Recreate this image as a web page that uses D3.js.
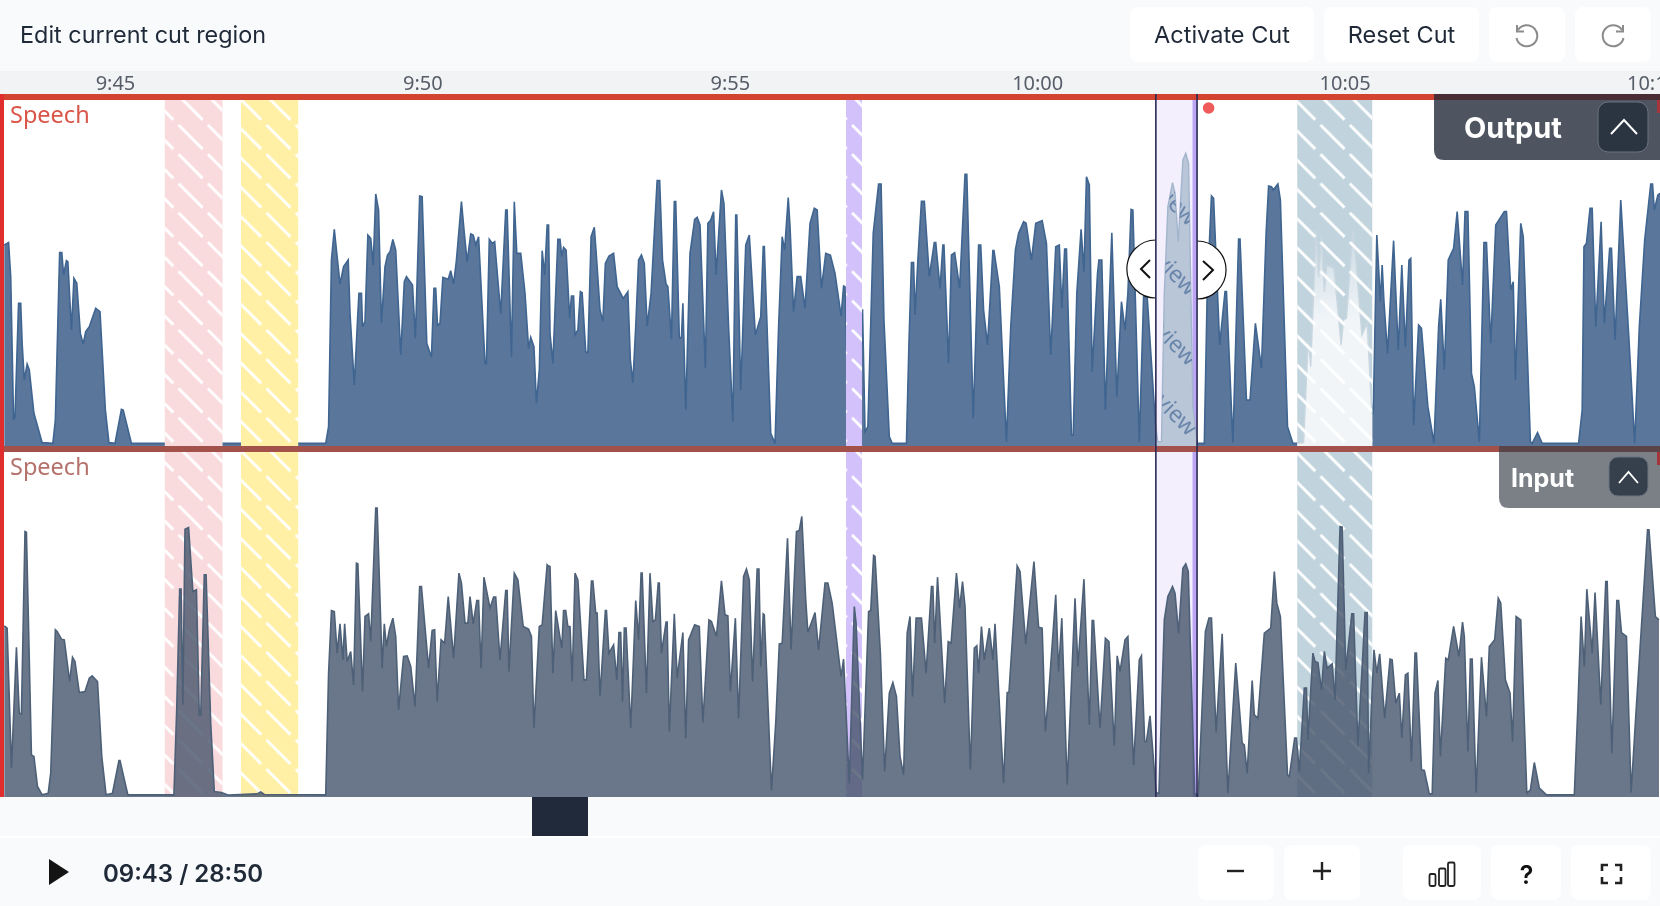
<!DOCTYPE html>
<html>
<head>
<meta charset="utf-8">
<script src="https://cdn.jsdelivr.net/npm/d3@7"></script>
<style>
  html, body { margin: 0; padding: 0; background: #f8fafc; overflow: hidden; }
  text { font-family: Inter, "Noto Sans", sans-serif; }
</style>
</head>
<body>
<div id="chart-area"></div>
<script>
// envelope readings, three stretches of the timeline: [sample, level]
const envelopeRate = 172.144;   // samples per second
const sectionLength = 1540;     // samples per stretch
const viewStart = 583.13;       // seconds at the left edge
const viewEnd = 610.13;
const fullScale = 1035;

const outputEarly = [[12,600],[24,607],[30,505],[38,75],[42,85],[52,425],[58,425],[62,305],[68,195],[76,243],[82,225],[95,95],[118,7],[148,5],[155,75],[167,577],[173,577],[178,510],[186,553],[190,550],[200,345],[205,455],[207,500],[215,485],[225,335],[233,303],[240,340],[250,355],[268,410],[280,400],[295,105],[305,7],[322,5],[340,107],[345,105],[368,5],[912,5],[920,55],[928,555],[936,647],[942,585],[952,483],[962,535],[975,555],[980,395],[992,180],[1002,395],[1005,455],[1012,455],[1015,355],[1022,370],[1030,630],[1038,620],[1045,540],[1052,753],[1060,705],[1068,365],[1078,535],[1085,570],[1092,580],[1100,617],[1108,585],[1122,270],[1132,490],[1138,505],[1155,480],[1163,320],[1175,747],[1182,745],[1195,305],[1208,263],[1215,470],[1220,470],[1225,360],[1232,365],[1240,503],[1255,497],[1262,523],[1270,483],[1278,555],[1292,730],[1300,635],[1308,550],[1318,633],[1325,630],[1332,600],[1340,625],[1358,245],[1362,245],[1370,617],[1378,605],[1385,610],[1402,393],[1416,705],[1420,705],[1432,265],[1440,730],[1447,575],[1458,575],[1470,455],[1480,290],[1486,323],[1495,295],[1502,125],[1510,225],[1518,583],[1525,510],[1532,660],[1536,660]];
const outputMiddle = [[0,335],[8,245],[22,617],[28,617],[33,565],[38,593],[45,585],[55,380],[60,447],[66,447],[70,330],[78,345],[85,460],[90,457],[100,280],[106,277],[115,625],[124,653],[130,565],[140,405],[148,370],[155,545],[165,567],[178,575],[188,475],[205,440],[218,460],[225,255],[232,187],[240,355],[248,555],[256,570],[264,545],[272,357],[283,455],[295,695],[300,793],[307,793],[315,555],[325,483],[330,475],[340,317],[348,730],[352,730],[362,322],[368,322],[372,425],[380,105],[392,575],[405,677],[412,683],[420,660],[435,230],[442,665],[450,675],[458,700],[465,510],[480,765],[487,725],[500,355],[512,70],[520,690],[523,690],[534,165],[548,600],[558,630],[575,330],[590,385],[597,595],[600,595],[618,35],[630,5],[640,355],[650,625],[657,585],[667,742],[672,655],[682,400],[692,505],[702,505],[714,410],[728,665],[740,710],[748,705],[760,470],[772,575],[785,570],[798,515],[815,387],[822,477],[826,475],[830,300],[873,300],[875,407],[882,40],[890,55],[905,635],[920,783],[927,783],[935,375],[950,25],[958,5],[998,5],[1005,305],[1012,547],[1018,547],[1022,390],[1030,555],[1040,731],[1048,731],[1062,505],[1076,607],[1080,607],[1092,470],[1100,600],[1103,600],[1116,245],[1124,570],[1133,577],[1147,470],[1162,812],[1167,812],[1185,80],[1200,600],[1206,600],[1214,405],[1225,300],[1240,583],[1243,583],[1258,475],[1278,10],[1290,355],[1303,585],[1312,635],[1326,670],[1333,665],[1348,555],[1360,665],[1378,673],[1390,605],[1402,270],[1416,595],[1426,600],[1433,410],[1441,588],[1446,588],[1460,30],[1465,30],[1475,455],[1487,647],[1495,520],[1502,805],[1510,780],[1518,220],[1533,515],[1537,555]];
const outputLate = [[0,555],[5,555],[15,105],[33,637],[47,145],[60,430],[70,345],[78,455],[87,707],[92,705],[110,10],[122,445],[132,445],[155,65],[162,10],[172,10],[180,455],[190,715],[203,787],[210,755],[219,610],[232,855],[240,875],[248,845],[260,115],[272,5],[292,5],[300,455],[312,747],[318,740],[335,300],[350,460],[354,460],[372,7],[388,618],[392,618],[410,135],[420,135],[435,365],[452,230],[465,635],[472,777],[480,775],[485,765],[498,783],[505,735],[525,55],[540,5],[553,5],[570,7],[583,315],[590,235],[605,645],[612,505],[620,625],[628,460],[635,540],[655,530],[675,300],[682,375],[690,380],[708,640],[715,575],[733,330],[748,365],[761,95],[765,95],[775,630],[785,430],[790,540],[795,430],[805,275],[822,613],[835,285],[845,540],[855,293],[865,555],[870,560],[878,60],[892,360],[900,350],[918,115],[935,5],[948,355],[954,437],[964,225],[975,555],[990,590],[1000,700],[1015,480],[1022,700],[1030,700],[1040,215],[1048,175],[1062,10],[1075,607],[1082,607],[1094,305],[1108,660],[1132,700],[1138,700],[1150,465],[1157,490],[1163,195],[1178,665],[1185,625],[1205,10],[1210,5],[1225,37],[1238,5],[1340,5],[1350,105],[1355,595],[1362,605],[1372,710],[1378,710],[1388,355],[1403,670],[1412,365],[1427,590],[1432,590],[1442,315],[1458,735],[1480,335],[1497,5],[1510,355],[1525,615],[1542,783],[1547,783],[1552,705],[1562,750],[1568,755]];

const inputEarly = [[12,512],[20,505],[32,85],[46,448],[54,250],[60,248],[70,795],[74,793],[88,125],[95,120],[105,30],[118,5],[135,10],[142,70],[155,500],[160,495],[172,472],[180,470],[195,345],[203,418],[210,405],[222,312],[238,315],[250,355],[258,362],[273,345],[285,120],[297,5],[315,10],[333,108],[336,108],[358,5],[487,5],[495,270],[503,622],[507,622],[512,275],[518,802],[528,807],[540,615],[550,620],[558,245],[562,245],[572,665],[577,665],[590,220],[600,15],[620,12],[640,4],[720,8],[730,14],[740,6],[912,5],[920,370],[928,558],[936,555],[944,430],[952,518],[960,410],[965,518],[972,405],[982,435],[990,335],[998,700],[1002,698],[1015,315],[1022,540],[1032,548],[1038,465],[1052,865],[1056,865],[1070,385],[1076,518],[1082,450],[1090,500],[1100,535],[1108,480],[1116,260],[1130,420],[1140,422],[1150,390],[1162,270],[1175,630],[1180,630],[1200,385],[1210,498],[1217,500],[1224,285],[1235,470],[1245,460],[1255,600],[1270,415],[1285,670],[1292,640],[1302,520],[1310,520],[1316,600],[1325,518],[1335,588],[1340,588],[1347,385],[1355,658],[1372,565],[1382,598],[1388,598],[1400,410],[1416,618],[1420,618],[1425,375],[1440,670],[1450,650],[1465,510],[1480,502],[1488,480],[1495,205],[1510,510],[1518,515],[1532,695],[1535,692]];
const inputMiddle = [[0,690],[8,370],[16,558],[26,490],[33,445],[38,558],[44,558],[50,510],[56,510],[62,345],[70,670],[78,650],[95,350],[102,350],[116,646],[120,646],[128,550],[132,550],[140,300],[155,558],[158,558],[165,430],[178,455],[187,350],[193,492],[198,492],[203,285],[208,505],[213,505],[226,205],[240,588],[248,470],[255,670],[258,670],[270,310],[280,670],[288,525],[295,530],[303,640],[306,640],[312,430],[325,523],[328,523],[334,195],[348,548],[356,355],[372,492],[380,175],[388,470],[405,515],[418,510],[428,222],[445,530],[452,525],[466,480],[480,647],[490,545],[498,542],[505,315],[519,535],[528,235],[542,660],[550,682],[558,650],[567,345],[580,682],[585,682],[590,390],[597,548],[600,545],[620,18],[632,220],[642,458],[650,460],[665,775],[675,440],[690,795],[698,798],[705,840],[716,590],[722,492],[742,552],[752,440],[770,640],[778,640],[790,580],[815,360],[822,412],[838,40],[852,570],[857,520],[875,50],[892,555],[898,558],[906,723],[910,720],[925,430],[937,75],[950,310],[960,342],[970,300],[980,120],[990,65],[1000,490],[1008,540],[1015,300],[1025,535],[1040,535],[1053,370],[1068,630],[1072,630],[1077,460],[1085,658],[1090,570],[1105,280],[1115,465],[1123,460],[1138,670],[1147,565],[1155,645],[1162,570],[1177,80],[1188,445],[1195,452],[1200,370],[1208,510],[1216,410],[1230,505],[1240,410],[1246,518],[1270,40],[1280,312],[1285,312],[1308,692],[1316,675],[1332,458],[1355,705],[1368,508],[1378,505],[1387,195],[1397,320],[1416,605],[1424,375],[1433,535],[1448,35],[1470,595],[1478,390],[1495,652],[1510,215],[1518,528],[1522,528]];
const inputLate = [[0,205],[15,475],[25,465],[40,152],[48,422],[56,375],[70,470],[78,480],[94,95],[110,410],[116,422],[125,165],[130,165],[140,242],[157,10],[165,10],[180,530],[190,600],[203,630],[210,610],[220,490],[232,685],[240,698],[247,675],[265,10],[275,2],[295,495],[305,535],[312,535],[325,192],[342,488],[358,10],[380,400],[398,160],[404,155],[412,70],[426,348],[432,245],[442,235],[460,490],[478,505],[488,675],[495,580],[505,540],[525,65],[530,60],[545,175],[550,175],[558,75],[572,325],[578,325],[582,170],[596,430],[602,405],[610,402],[620,320],[628,435],[636,385],[650,398],[658,290],[672,810],[678,808],[688,380],[705,548],[710,548],[722,152],[742,552],[748,552],[752,70],[767,440],[775,370],[783,428],[797,235],[812,412],[818,410],[828,280],[838,310],[845,175],[855,365],[862,370],[872,105],[882,430],[886,430],[900,80],[908,78],[922,8],[930,8],[938,310],[946,348],[953,120],[968,415],[975,410],[990,510],[1000,450],[1005,420],[1015,523],[1020,480],[1030,135],[1037,412],[1042,412],[1053,12],[1068,418],[1082,240],[1090,450],[1105,470],[1115,595],[1122,580],[1135,350],[1148,310],[1155,165],[1165,540],[1178,530],[1195,10],[1205,20],[1216,102],[1230,25],[1250,5],[1328,5],[1338,270],[1347,540],[1356,390],[1363,622],[1378,430],[1386,612],[1402,275],[1416,645],[1420,645],[1433,130],[1447,588],[1452,588],[1460,492],[1474,480],[1487,12],[1500,240],[1533,800],[1537,800],[1555,540],[1565,530]];

// marked regions, seconds
const regionNames = ["pink", "yellow", "purple", "teal"];
const regionStart = [585.81, 587.05, 596.89, 604.23];
const regionEnd = [586.75, 587.98, 597.15, 605.45];
const regionColors = ["#f9dbde", "#fff0a5", "#d3c1fb", "#c1d4de"];
const cutStart = 601.93, cutEnd = 602.60;

const tickSeconds = [585, 590, 595, 600, 605, 610];
const tickLabels = ["9:45", "9:50", "9:55", "10:00", "10:05", "10:10"];

function toSeconds(sections) {
    return sections.flatMap((rows, i) => rows.map(r => ({
        t: viewStart + (r[0] + i * sectionLength) / envelopeRate,
        v: r[1]
    })));
}
const output = toSeconds([outputEarly, outputMiddle, outputLate]);
const input = toSeconds([inputEarly, inputMiddle, inputLate]);

var svg = d3.select("#chart-area").append("svg").attr("width", 1660).attr("height", 906)
    .style("display", "block");
var defs = svg.append("defs");

var x = d3.scaleLinear().domain([viewStart, viewEnd]).range([0, 1660]);
var yOut = d3.scaleLinear().domain([0, fullScale]).range([445, 100]);
var yIn = d3.scaleLinear().domain([0, fullScale]).range([796.5, 451.5]);

// hatch: long white dashes on the diagonal
var hatch = defs.append("pattern").attr("id", "hatch").attr("patternUnits", "userSpaceOnUse")
    .attr("x", 177.6).attr("y", 124).attr("width", 29.28).attr("height", 29.28);
hatch.append("line").attr("x1", 1).attr("y1", 1).attr("x2", 25).attr("y2", 25)
    .attr("stroke", "#fff").attr("stroke-width", 2.8);

defs.append("filter").attr("id", "soft").attr("x", "-5%").attr("y", "-5%").attr("width", "110%").attr("height", "110%")
    .append("feGaussianBlur").attr("stdDeviation", 0.75);

var ghostFade = defs.append("linearGradient").attr("id", "ghost-fade").attr("gradientUnits", "userSpaceOnUse")
    .attr("x1", 0).attr("x2", 0).attr("y1", 225).attr("y2", 320);
ghostFade.append("stop").attr("offset", 0).attr("stop-color", "#f1f5f8").attr("stop-opacity", 0.12);
ghostFade.append("stop").attr("offset", 1).attr("stop-color", "#f1f5f8").attr("stop-opacity", 1);

function clipX(id, t0, t1, top, bottom) {
    defs.append("clipPath").attr("id", id).append("rect")
        .attr("x", x(t0)).attr("width", x(t1) - x(t0)).attr("y", top).attr("height", bottom - top);
}
clipX("cut-out", cutStart, cutEnd, 100, 446);
clipX("teal-out", regionStart[3], regionEnd[3], 100, 446);
clipX("plot-out", viewStart, viewEnd, 100, 446);
clipX("plot-in", viewStart, viewEnd, 452, 797);

// page chrome
svg.append("rect").attr("width", 1660).attr("height", 906).attr("fill", "#f8fafc");
svg.append("rect").attr("y", 71).attr("width", 1660).attr("height", 23).attr("fill", "#f1f3f5");
svg.append("rect").attr("y", 94).attr("width", 1660).attr("height", 703).attr("fill", "#fff");
svg.append("rect").attr("y", 836).attr("width", 1660).attr("height", 2).attr("fill", "#fff");

var plot = svg.append("g").attr("filter", "url(#soft)");

// time axis
var axis = d3.axisTop(x).tickValues(tickSeconds).tickSize(0)
    .tickFormat((d, i) => tickLabels[i]);
var axisG = plot.append("g").attr("transform", "translate(0,93)").call(axis);
axisG.select(".domain").remove();
axisG.selectAll("text").style("font-family", '"Noto Sans", sans-serif').style("font-size", "20px")
    .attr("fill", "#565d68").attr("dy", 0);

function drawBands(g, top, bottom, ids) {
    g.selectAll(null).data(ids).enter().append("rect")
        .attr("x", i => x(regionStart[i])).attr("width", i => x(regionEnd[i]) - x(regionStart[i]))
        .attr("y", top).attr("height", bottom - top).attr("fill", i => regionColors[i]);
    g.selectAll(null).data(ids).enter().append("rect")
        .attr("x", i => x(regionStart[i])).attr("width", i => x(regionEnd[i]) - x(regionStart[i]))
        .attr("y", top).attr("height", bottom - top).attr("fill", "url(#hatch)");
}

function drawCut(g, top, bottom) {
    g.append("rect").attr("x", x(cutStart)).attr("width", x(cutEnd) - x(cutStart))
        .attr("y", top).attr("height", bottom - top).attr("fill", "#f3effd");
    g.append("rect").attr("x", x(cutEnd) - 4.5).attr("width", 4.5)
        .attr("y", top).attr("height", bottom - top).attr("fill", "#bba6f6");
}

// output lane
var outArea = d3.area().x(d => x(d.t)).y0(446).y1(d => yOut(d.v));
var outLine = d3.line().x(d => x(d.t)).y(d => yOut(d.v));
var outG = plot.append("g").attr("clip-path", "url(#plot-out)");
outG.append("path").datum(output).attr("d", outArea).attr("fill", "#5a769b");
outG.append("path").datum(output).attr("d", outLine).attr("fill", "none")
    .attr("stroke", "#3f6590").attr("stroke-width", 1.6);

drawBands(outG, 100, 446, [0, 1, 2]);

// teal region keeps a ghost of the waveform
var tealG = plot.append("g");
tealG.append("rect").attr("x", x(regionStart[3])).attr("width", x(regionEnd[3]) - x(regionStart[3]))
    .attr("y", 100).attr("height", 346).attr("fill", regionColors[3]);
var ghost = tealG.append("g").attr("clip-path", "url(#teal-out)");
ghost.append("path").datum(output).attr("d", outArea).attr("fill", "url(#ghost-fade)");
ghost.append("path").datum(output).attr("d", outLine).attr("fill", "none")
    .attr("stroke", "#cad7e0").attr("stroke-width", 1.4);
tealG.append("rect").attr("x", x(regionStart[3])).attr("width", x(regionEnd[3]) - x(regionStart[3]))
    .attr("y", 100).attr("height", 346).attr("fill", "url(#hatch)");

svg.append("circle").attr("cx", x(cutStart)).attr("cy", 269).attr("r", 29)
    .attr("fill", "#fff").attr("stroke", "#111").attr("stroke-width", 1.2);
svg.append("circle").attr("cx", x(cutEnd)).attr("cy", 270).attr("r", 29)
    .attr("fill", "#fff").attr("stroke", "#111").attr("stroke-width", 1.2);

var cutG = svg.append("g").attr("filter", "url(#soft)");
drawCut(cutG, 100, 446);
var cutInner = cutG.append("g").attr("clip-path", "url(#cut-out)");
cutInner.append("path").datum(output).attr("d", outArea).attr("fill", "#b9c6d8");
cutInner.append("path").datum(output).attr("d", outLine).attr("fill", "none")
    .attr("stroke", "#a3b5cc").attr("stroke-width", 1.4);

// watermark only shows through the waveform
defs.append("clipPath").attr("id", "cut-wave").append("path").datum(output).attr("d", outArea);
var mark = cutInner.append("g").attr("clip-path", "url(#cut-wave)");
[227, 297, 367, 437].forEach(yy => {
    mark.append("text").attr("transform", `translate(${x(cutEnd) - 9},${yy}) rotate(45)`)
        .attr("text-anchor", "end").style("font-family", '"Noto Sans", sans-serif')
        .style("font-size", "23px").attr("fill", "#5d7ba3").attr("opacity", 0.85).text("Preview");
});

var chevrons = [[[1150, 260], [1141, 269], [1150, 278]], [[1203, 261], [1213, 270], [1203, 280]]];
svg.selectAll(null).data(chevrons).enter().append("path")
    .attr("d", d3.line()).attr("fill", "none").attr("stroke", "#111").attr("stroke-width", 2);

// input lane
var inArea = d3.area().x(d => x(d.t)).y0(797).y1(d => yIn(d.v));
var inLine = d3.line().x(d => x(d.t)).y(d => yIn(d.v));
var inG = plot.append("g").attr("clip-path", "url(#plot-in)");
drawBands(inG, 452, 797, [0, 1, 2, 3]);
drawCut(inG, 452, 797);
inG.append("path").datum(input).attr("d", inArea).attr("fill", "#46546a").attr("fill-opacity", 0.8);
inG.append("path").datum(input).attr("d", inLine).attr("fill", "none")
    .attr("stroke", "#4d6178").attr("stroke-width", 1.6);

// lane borders
svg.append("rect").attr("y", 94).attr("width", 1660).attr("height", 6).attr("fill", "#d2442f");
svg.append("rect").attr("y", 446).attr("width", 1660).attr("height", 6).attr("fill", "#a2524a");
svg.append("rect").attr("y", 94).attr("width", 4).attr("height", 703).attr("fill", "#e02d2d");
[[cutStart], [cutEnd]].forEach(t => {
    svg.append("line").attr("x1", x(t[0])).attr("x2", x(t[0])).attr("y1", 94).attr("y2", 797)
        .attr("stroke", "#2b2a55").attr("stroke-width", 1.6);
});
svg.append("circle").attr("cx", 1208.6).attr("cy", 108).attr("r", 5.8).attr("fill", "#ef5a5a");

plot.append("text").attr("x", 10).attr("y", 123).style("font-family", '"Noto Sans", sans-serif')
    .style("font-size", "23.5px").attr("fill", "#d9564a").text("Speech");
plot.append("text").attr("x", 10).attr("y", 475).style("font-family", '"Noto Sans", sans-serif')
    .style("font-size", "23.5px").attr("fill", "#b5726c").text("Speech");

// lane tabs
function tab(x0, y0, y1, color, strip) {
    svg.append("path").attr("d", `M${x0},${y0}H1660V${y1}H${x0 + 10}Q${x0},${y1} ${x0},${y1 - 10}Z`).attr("fill", color);
    svg.append("rect").attr("x", x0).attr("y", y0).attr("width", 1660 - x0).attr("height", 6).attr("fill", strip);
    svg.append("rect").attr("x", 1657).attr("y", y0 + 6).attr("width", 3).attr("height", 13).attr("fill", "#a5353a");
}
tab(1434, 94, 160, "#4e5560", "#4a2d34");
tab(1499, 446, 508, "#7b8087", "#5a4448");

svg.append("text").attr("x", 1464).attr("y", 138).attr("fill", "#fff")
    .style("font-size", "29px").style("font-weight", 700).text("Output");
svg.append("text").attr("x", 1511).attr("y", 487).attr("fill", "#fff")
    .style("font-size", "25px").style("font-weight", 700).text("Input");
svg.append("rect").attr("x", 1598).attr("y", 102).attr("width", 50).attr("height", 50).attr("rx", 10)
    .attr("fill", "#2b3441").attr("stroke", "#6b7280");
svg.append("rect").attr("x", 1609).attr("y", 457).attr("width", 39).attr("height", 39).attr("rx", 9)
    .attr("fill", "#36404d").attr("stroke", "#6b7280");
svg.append("path").attr("d", "M1611,134L1624,120L1637,134").attr("fill", "none").attr("stroke", "#fff").attr("stroke-width", 2);
svg.append("path").attr("d", "M1619,483L1628.5,472L1638,483").attr("fill", "none").attr("stroke", "#fff").attr("stroke-width", 1.8);

// buttons
function button(x0, x1, y0, y1) {
    svg.append("rect").attr("x", x0).attr("y", y0).attr("width", x1 - x0).attr("height", y1 - y0)
        .attr("rx", 8).attr("fill", "#fff");
}
[[1130, 1314], [1324, 1479], [1489, 1565], [1575, 1651]].forEach(b => button(b[0], b[1], 7, 62));
[[1198, 1274], [1284, 1360], [1403, 1481], [1491, 1561], [1571, 1651]].forEach(b => button(b[0], b[1], 845, 900));

svg.append("text").attr("x", 20).attr("y", 43).attr("fill", "#1f2937")
    .style("font-size", "23.4px").text("Edit current cut region");
svg.append("text").attr("x", 1222).attr("y", 43).attr("text-anchor", "middle").attr("fill", "#1f2937")
    .style("font-size", "23.5px").text("Activate Cut");
svg.append("text").attr("x", 1401.5).attr("y", 43).attr("text-anchor", "middle").attr("fill", "#1f2937")
    .style("font-size", "23.5px").text("Reset Cut");
svg.append("text").attr("x", 103).attr("y", 882).attr("fill", "#1f2937")
    .style("font-size", "24px").style("font-weight", 600).text("09:43 / 28:50");
svg.append("text").attr("x", 1526.5).attr("y", 884).attr("text-anchor", "middle").attr("fill", "#111")
    .style("font-size", "25px").style("font-weight", 600).text("?");

// icons
var icons = svg.append("g").attr("fill", "none");
icons.append("path").attr("d", "M1518,30A10.5,10.5 0 1 1 1516.5,38").attr("stroke", "#8c8c8c").attr("stroke-width", 2);
icons.append("path").attr("d", "M1517,25V31.5H1524").attr("stroke", "#8c8c8c").attr("stroke-width", 2);
icons.append("path").attr("d", "M1622,30A10.5,10.5 0 1 0 1623.5,38").attr("stroke", "#8c8c8c").attr("stroke-width", 2);
icons.append("path").attr("d", "M1623,25V31.5H1616").attr("stroke", "#8c8c8c").attr("stroke-width", 2);
icons.append("path").attr("d", "M1227,871H1244").attr("stroke", "#222").attr("stroke-width", 2.4);
icons.append("path").attr("d", "M1313,871H1331M1322,862V880").attr("stroke", "#222").attr("stroke-width", 2.4);
[[1429.5, 874, 6], [1439, 868.5, 6.5], [1448, 862.5, 6.5]].forEach(b => {
    icons.append("rect").attr("x", b[0]).attr("y", b[1]).attr("width", b[2]).attr("height", 886 - b[1])
        .attr("rx", 1.5).attr("stroke", "#222").attr("stroke-width", 1.8);
});
icons.append("path").attr("d", "M1602,871V865H1608M1615,865H1621V871M1621,877V883H1615M1608,883H1602V877")
    .attr("stroke", "#222").attr("stroke-width", 2.6);
svg.append("path").attr("d", "M49,859L69,872L49,885Z").attr("fill", "#141414");

// scrubber thumb
svg.append("rect").attr("x", 532).attr("y", 797).attr("width", 56).attr("height", 39).attr("fill", "#202a3a");
</script>
</body>
</html>
